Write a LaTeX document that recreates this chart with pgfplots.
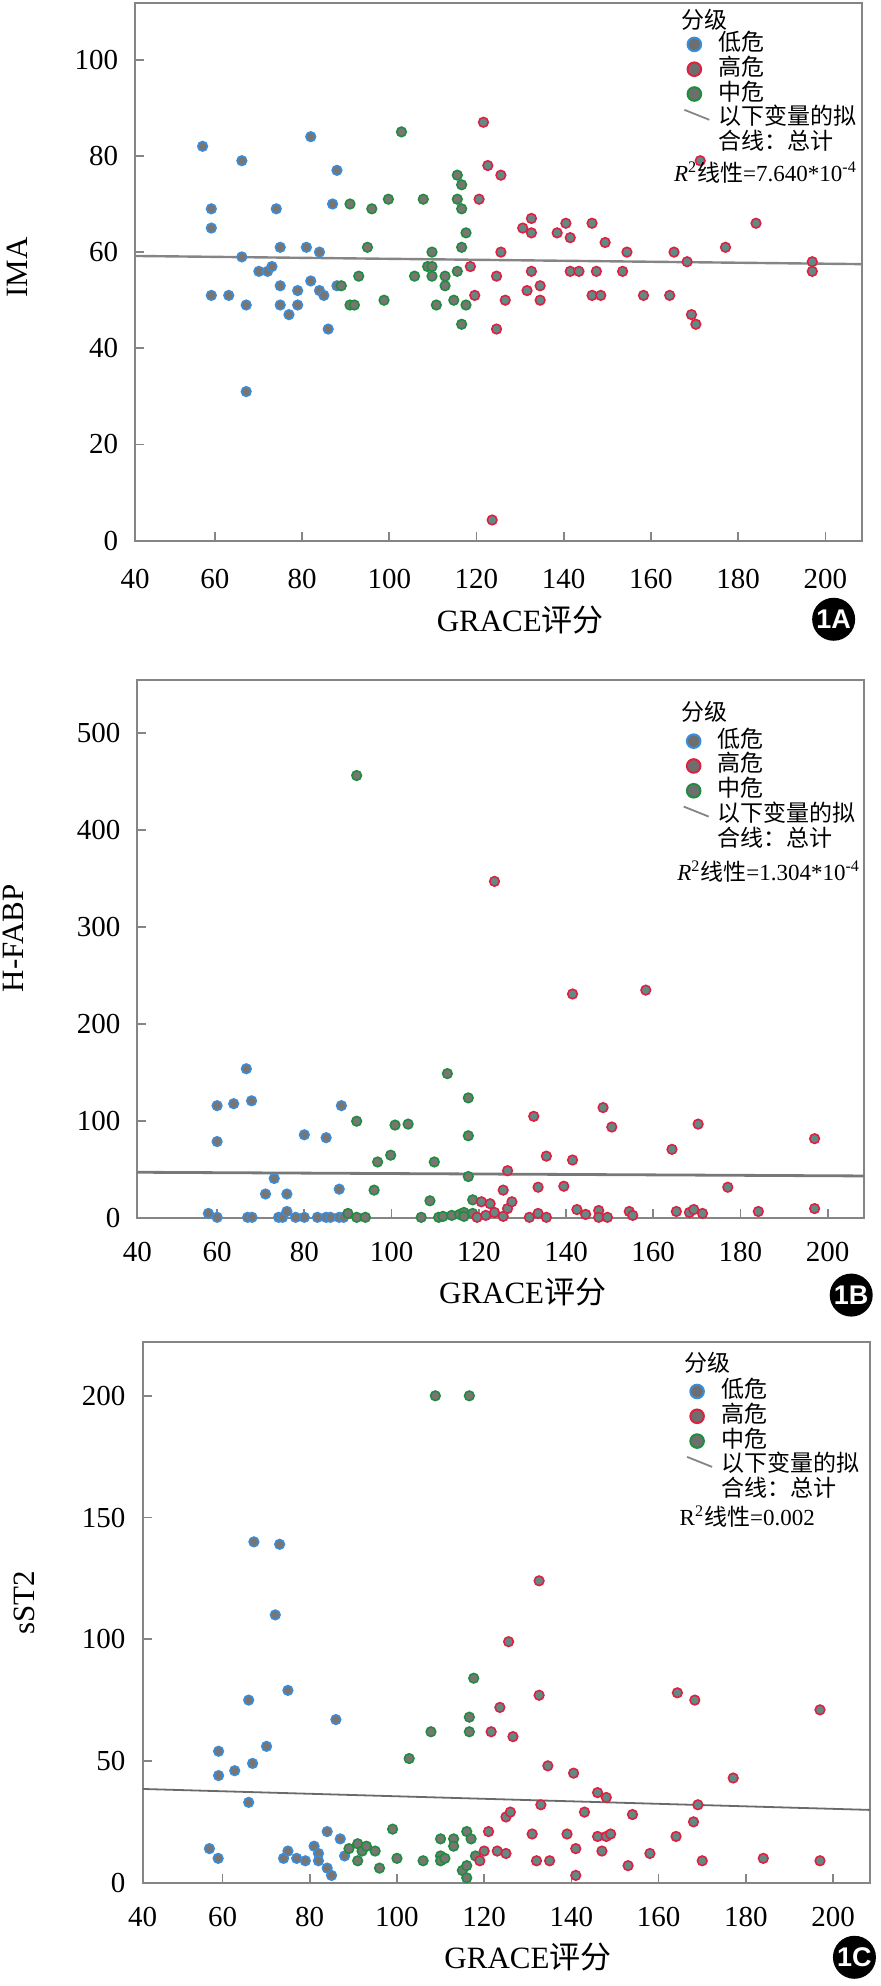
\documentclass[border=0pt]{standalone}
\usepackage{fontspec}
\setmainfont{Liberation Serif}
\newfontfamily\cjk{Noto Sans CJK SC}
\newfontfamily\badge{Liberation Sans}
\usepackage{pgfplots}
\pgfplotsset{compat=1.18}
\definecolor{bedge}{HTML}{3A8DDB}
\definecolor{redge}{HTML}{E02040}
\definecolor{gedge}{HTML}{1E8E3E}
\definecolor{bfill}{HTML}{7B746F}
\definecolor{rfill}{HTML}{5F8A86}
\definecolor{gfill}{HTML}{7A7474}
\definecolor{lfill}{HTML}{6E6E6E}
\definecolor{axgray}{HTML}{858585}
\definecolor{fitgray}{HTML}{858585}
\tikzset{badgestyle/.style={circle, fill=black, minimum size=21.5pt, inner sep=0pt, text=white, font=\badge\bfseries\fontsize{13.5}{14}\selectfont}}
\pgfplotsset{
  panel/.style={
    scale only axis, width=363.5pt,
    xmin=41.7, xmax=208.4, xtick={60,80,...,200},
    extra x ticks={41.7}, extra x tick labels={40},
    extra x tick style={major tick length=0pt},
    axis line style={axgray, line width=0.85pt},
    tick style={axgray, line width=0.85pt},
    tick align=inside, xtick pos=bottom, ytick pos=left,
    major tick length=4.5pt,
    ticklabel style={font=\fontsize{14.5}{17}\selectfont, inner sep=0pt},
    /pgf/number format/assume math mode=true,
    xticklabel style={anchor=center},
    yticklabel style={anchor=east},
    label style={font=\fontsize{15.5}{18}\selectfont},
    clip mode=individual,
    legend style={anchor=north west, draw=none, fill=none, inner sep=0pt, outer sep=0pt,
      font=\fontsize{11.5}{12}\selectfont, row sep=0pt, column sep=3pt,
      nodes={inner sep=0pt, text height=9.2pt, text depth=3.2pt}},
    legend cell align=left,
  },
  lowpt/.style={only marks, mark=*, mark size=2.4pt, mark options={fill=bfill, draw=bedge, line width=0.8pt}, forget plot},
  highpt/.style={only marks, mark=*, mark size=2.4pt, mark options={fill=rfill, draw=redge, line width=0.8pt}, forget plot},
  midpt/.style={only marks, mark=*, mark size=2.4pt, mark options={fill=gfill, draw=gedge, line width=0.8pt}, forget plot},
  markimg/.style={legend image code/.code={\path[draw=none, fill=none] (0pt,-5pt) rectangle (14pt,5pt); \draw[##1] plot coordinates {(5pt,0pt)};}},
  lineimg/.style={legend image code/.code={\path[draw=none, fill=none] (0pt,-5pt) rectangle (14pt,5pt); \draw[fitgray, line width=0.9pt] (0pt,4.5pt) -- (12.5pt,-0.5pt);}},
}
\newcommand{\mylegend}{%
  \addlegendimage{only marks, mark=*, mark size=3.4pt, mark options={fill=lfill, draw=bedge, line width=1pt}, markimg}
  \addlegendentry{\cjk 低危}
  \addlegendimage{only marks, mark=*, mark size=3.4pt, mark options={fill=lfill, draw=redge, line width=1pt}, markimg}
  \addlegendentry{\cjk 高危}
  \addlegendimage{only marks, mark=*, mark size=3.4pt, mark options={fill=lfill, draw=gedge, line width=1pt}, markimg}
  \addlegendentry{\cjk 中危}
  \addlegendimage{lineimg}
  \addlegendentry{\cjk 以下变量的拟}
  \addlegendimage{empty legend}
  \addlegendentry{\cjk 合线：总计}
}
\begin{document}
\begin{tikzpicture}
\useasboundingbox (0,0) rectangle (440pt,993pt);
% ---------------- Panel A ----------------
\begin{axis}[panel, height=268.85pt, at={(67.5pt,722.65pt)}, anchor=south west,
  ymin=0, ymax=111.8, ytick={0,20,...,100},
  ylabel={IMA}, ylabel style={at={(axis description cs:-0.1616,0.508)}, anchor=center},
  xlabel={GRACE{\cjk 评分}}, xlabel style={at={(axis description cs:0.53,0)}, anchor=center, yshift=-39.7pt},
  xticklabel style={yshift=-19pt}, yticklabel style={xshift=-8.3pt},
  legend style={at={(axis description cs:0.7544,0.946)}}]
\addplot[fitgray, line width=1.2pt, forget plot] coordinates {(41.7,59.2) (208.4,57.5)};
\addplot[lowpt] coordinates {(57.2,82) (59.2,69) (59.2,65) (59.2,51) (63.2,51) (66.2,79) (66.2,59) (67.2,49) (67.2,31) (70.1,56) (72.1,56) (73.1,57) (74.1,69) (75,61) (75,53) (75,49) (77,47) (79,52) (79,49) (81,61) (82,84) (82,54) (84,60) (84,52) (85,51) (86,44) (87,70) (88,77) (88,53)};
\addplot[midpt] coordinates {(89,53) (91,70) (91,49) (92,49) (93,55) (95,61) (96,69) (98.8,50) (99.8,71) (102.8,85) (105.8,55) (107.8,71) (108.8,57) (109.8,60) (109.8,57) (109.8,55) (110.8,49) (112.8,55) (112.8,53) (114.8,50) (115.6,76) (115.6,71) (115.6,56) (116.6,74) (116.6,69) (116.6,61) (116.6,45) (117.6,64) (117.6,49)};
\addplot[highpt] coordinates {(118.6,57) (119.6,51) (120.6,71) (121.6,87) (122.6,78) (123.6,4.3) (124.6,55) (124.6,44) (125.6,76) (125.6,60) (126.6,50) (130.6,65) (131.6,52) (132.6,67) (132.6,64) (132.6,56) (134.6,53) (134.6,50) (138.5,64) (140.5,66) (141.5,63) (141.5,56) (143.5,56) (146.5,66) (146.5,51) (147.5,56) (148.5,51) (149.5,62) (153.5,56) (154.5,60) (158.3,51) (164.3,51) (165.3,60) (168.3,58) (169.3,47) (170.3,45) (171.3,79) (177.1,61) (184.1,66) (197,58) (197,56)};
\mylegend
\node[anchor=west, inner sep=0pt, font=\cjk\fontsize{11.5}{12}\selectfont] at (axis description cs:0.7517,0.969) {分级};
\node[anchor=west, inner sep=0pt, font=\fontsize{11.5}{12}\selectfont] at (axis description cs:0.741,0.684) {\textit{R}\textsuperscript{2}{\cjk 线性}=7.640*10\textsuperscript{-4}};
\node[badgestyle, yshift=-39.3pt] at (axis description cs:0.961,0) {1A};
\end{axis}
% ---------------- Panel B ----------------
\begin{axis}[panel, height=269.15pt, at={(68.65pt,383.85pt)}, anchor=south west,
  ymin=0, ymax=554.4, ytick={0,100,...,500},
  ylabel={H-FABP}, ylabel style={at={(axis description cs:-0.171,0.52)}, anchor=center},
  xlabel={GRACE{\cjk 评分}}, xlabel style={at={(axis description cs:0.53,0)}, anchor=center, yshift=-37pt},
  xticklabel style={yshift=-17pt}, yticklabel style={xshift=-8.2pt},
  legend style={at={(axis description cs:0.7503,0.9094)}}]
\addplot[fitgray!90!black, line width=1.4pt, forget plot] coordinates {(41.7,47.4) (208.4,43.6)};
\addplot[lowpt] coordinates {(58,5) (60,1) (60,116) (60,79) (63.8,118) (66.7,154) (67,1) (68,1) (67.9,121) (71.1,25) (73.1,41) (74.1,1) (75,1) (76,7) (76,25) (78,1) (80,1) (80,86) (83,1) (85,83) (85,1) (86,1) (88,30) (88,1) (88.5,116) (89,1)};
\addplot[midpt] coordinates {(90,5) (92,1) (92,100) (92,456) (94,1) (96,29) (96.8,58) (99.8,65) (100.8,96) (103.8,97) (106.8,1) (108.8,18) (109.8,58) (110.8,1) (111.8,2) (113.8,3) (112.8,149) (115.6,4) (116.6,6) (116.6,2) (117.6,124) (117.6,85) (117.6,43) (118.6,19) (118.6,5)};
\addplot[highpt] coordinates {(119.6,1) (120.6,17) (121.6,3) (122.6,15) (123.6,6) (123.6,347) (125.6,29) (125.6,2) (126.6,49) (126.6,10) (127.6,17) (131.6,1) (132.6,105) (133.6,5) (133.6,32) (135.5,1) (135.5,64) (139.5,33) (141.5,60) (142.5,9) (141.5,231) (144.5,4) (147.5,8) (147.5,1) (149.5,1) (148.5,114) (150.5,94) (154.5,7) (155.3,3) (158.3,235) (164.3,71) (165.3,7) (168.3,6) (169.3,9) (170.3,97) (171.3,5) (177.1,32) (184.1,7) (197,82) (197,10)};
\mylegend
\node[anchor=west, inner sep=0pt, font=\cjk\fontsize{11.5}{12}\selectfont] at (axis description cs:0.7484,0.9413) {分级};
\node[anchor=west, inner sep=0pt, font=\fontsize{11.5}{12}\selectfont] at (axis description cs:0.7422,0.644) {\textit{R}\textsuperscript{2}{\cjk 线性}=1.304*10\textsuperscript{-4}};
\node[badgestyle, yshift=-38.4pt] at (axis description cs:0.982,0) {1B};
\end{axis}
% ---------------- Panel C ----------------
\begin{axis}[panel, height=270.35pt, at={(71.35pt,51.65pt)}, anchor=south west,
  ymin=0, ymax=222.1, ytick={0,50,...,200},
  ylabel={sST2}, ylabel style={at={(axis description cs:-0.1624,0.518)}, anchor=center},
  xlabel={GRACE{\cjk 评分}}, xlabel style={at={(axis description cs:0.53,0)}, anchor=center, yshift=-37.4pt},
  xticklabel style={yshift=-17.2pt}, yticklabel style={xshift=-8.5pt},
  legend style={at={(axis description cs:0.7476,0.9314)}}]
\addplot[fitgray!80!black, line width=0.9pt, forget plot] coordinates {(41.7,38.5) (208.4,29.9)};
\addplot[lowpt] coordinates {(57,14) (59,10) (59.1,54) (59.1,44) (62.8,46) (66,75) (66,33) (67.2,140) (66.9,49) (70.1,56) (72.1,110) (73.1,139) (74,10) (75,13) (75,79) (77,10) (79,9) (81,15) (82,12) (82,9) (84,21) (84,6) (85,3) (86,67) (87,18) (88,11)};
\addplot[midpt] coordinates {(89,14) (91,16) (91,9) (92,13) (93,15) (95,13) (96,6) (99,22) (100,10) (102.8,51) (106,9) (107.8,62) (108.8,200) (110,18) (110,11) (110,9) (111,10) (113,18) (113,15) (115,5) (116,7) (116,2) (116,21) (117,18) (116.6,200) (116.6,68) (116.6,62) (117.6,84) (118,11)};
\addplot[highpt] coordinates {(119,9) (120,13) (121,21) (121.6,62) (123,13) (123.6,72) (125,12) (125,27) (125.6,99) (126,29) (126.6,60) (131,20) (132,9) (132.6,124) (132.6,77) (133,32) (134.6,48) (135,9) (139,20) (140.5,45) (141,14) (141,3) (143,29) (146,19) (146,37) (147,13) (148,35) (148,19) (149,20) (153,7) (154,28) (158,12) (164.3,78) (164,19) (168.3,75) (168,25) (169,32) (170,9) (177.1,43) (184,10) (197,71) (197,9)};
\mylegend
\node[anchor=west, inner sep=0pt, font=\cjk\fontsize{11.5}{12}\selectfont] at (axis description cs:0.7449,0.9615) {分级};
\node[anchor=west, inner sep=0pt, font=\fontsize{11.5}{12}\selectfont] at (axis description cs:0.7381,0.677) {R\textsuperscript{2}{\cjk 线性}=0.002};
\node[badgestyle, yshift=-37.3pt] at (axis description cs:0.979,0) {1C};
\end{axis}
\end{tikzpicture}
\end{document}
